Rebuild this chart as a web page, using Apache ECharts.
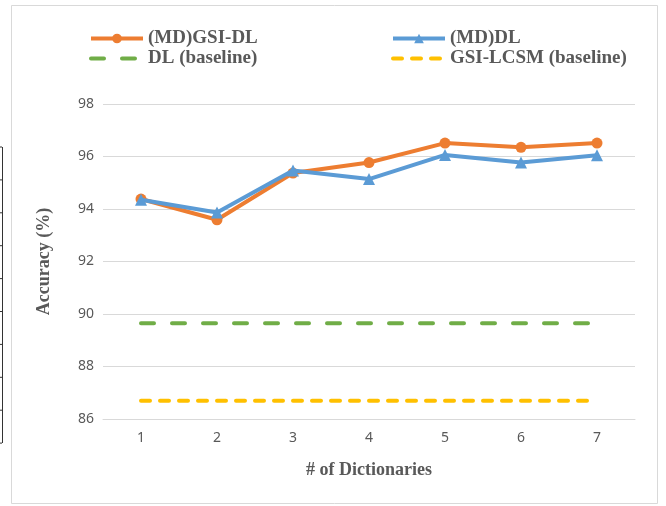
<!DOCTYPE html>
<html>
<head>
<meta charset="utf-8">
<script src="https://cdn.jsdelivr.net/npm/echarts@6/dist/echarts.min.js"></script>
<style>
  html, body { margin: 0; padding: 0; background: #fff; }
  #chart { width: 666px; height: 506px; }
</style>
</head>
<body>
<div id="chart"></div>
<script>
const dictionaries = ['1', '2', '3', '4', '5', '6', '7']
const gsiDl = [94.38, 93.59, 95.37, 95.77, 96.51, 96.35, 96.51]
const mdDl = [94.35, 93.87, 95.47, 95.14, 96.06, 95.77, 96.05]
const dlBaseline = [89.65, 89.65, 89.65, 89.65, 89.65, 89.65, 89.65]
const lcsmBaseline = [86.7, 86.7, 86.7, 86.7, 86.7, 86.7, 86.7]

const textColor = '#595959'
const serif = 'Liberation Serif'

const chart = echarts.init(document.getElementById('chart'))

const legendText = { fontFamily: serif, fontWeight: 'bold', fontSize: 19, color: textColor }
const makeLegend = (name, left, top, noSymbol) => ({
  data: [name],
  left: left,
  top: top,
  itemWidth: 52,
  itemHeight: 12,
  padding: 0,
  textStyle: legendText,
  itemStyle: noSymbol ? { opacity: 0 } : {},
  lineStyle: { width: 4 },
  selectedMode: false
})

// the stray table edge at the far left of the picture
const edgeLines = []
for (let i = 0; i < 10; i++) {
  const y = 147 + i * 32.9
  edgeLines.push({ type: 'line', shape: { x1: 0, y1: y, x2: 2, y2: y }, style: { stroke: '#333', lineWidth: 1 } })
}

const option = {
  animation: false,
  backgroundColor: '#fff',
  graphic: [
    { type: 'rect', shape: { x: 11.5, y: 5.5, width: 646, height: 498 }, style: { fill: 'none', stroke: '#d9d9d9', lineWidth: 1 }, silent: true },
    { type: 'line', shape: { x1: 2.5, y1: 147, x2: 2.5, y2: 443 }, style: { stroke: '#333', lineWidth: 1 } },
    ...edgeLines
  ],
  legend: [
    makeLegend('(MD)GSI-DL', 89, 29, false),
    makeLegend('(MD)DL', 391, 29, false),
    makeLegend('DL (baseline)', 89, 49, true),
    makeLegend('GSI-LCSM (baseline)', 391, 49, true)
  ],
  grid: { left: 103, right: 31, top: 104, bottom: 87 },
  xAxis: {
    type: 'category',
    data: dictionaries,
    boundaryGap: true,
    name: '# of Dictionaries',
    nameLocation: 'middle',
    nameGap: 42,
    nameTextStyle: { fontFamily: serif, fontWeight: 'bold', fontSize: 18, color: textColor },
    axisLine: { lineStyle: { color: '#d9d9d9', width: 1 } },
    axisTick: { show: false },
    axisLabel: { fontFamily: 'Noto Sans', fontSize: 14, color: textColor, margin: 12 }
  },
  yAxis: {
    type: 'value',
    min: 86,
    max: 98,
    interval: 2,
    name: 'Accuracy (%)',
    nameLocation: 'middle',
    nameGap: 50,
    nameTextStyle: { fontFamily: serif, fontWeight: 'bold', fontSize: 18, color: textColor },
    axisLine: { show: false },
    axisTick: { show: false },
    axisLabel: { fontFamily: 'Noto Sans', fontSize: 14, color: textColor, margin: 9 },
    splitLine: { lineStyle: { color: '#d9d9d9', width: 1 } }
  },
  series: [
    {
      name: 'DL (baseline)',
      type: 'line',
      data: dlBaseline,
      showSymbol: false,
      symbol: 'none',
      itemStyle: { color: '#70ad47' },
      lineStyle: { color: '#70ad47', width: 4, type: [13, 18], cap: 'round' },
      z: 2
    },
    {
      name: 'GSI-LCSM (baseline)',
      type: 'line',
      data: lcsmBaseline,
      showSymbol: false,
      symbol: 'none',
      itemStyle: { color: '#ffc000' },
      lineStyle: { color: '#ffc000', width: 4, type: [9, 10], cap: 'round' },
      z: 2
    },
    {
      name: '(MD)GSI-DL',
      type: 'line',
      data: gsiDl,
      symbol: 'circle',
      symbolSize: 11,
      itemStyle: { color: '#ed7d31' },
      lineStyle: { color: '#ed7d31', width: 4 },
      z: 3
    },
    {
      name: '(MD)DL',
      type: 'line',
      data: mdDl,
      symbol: 'triangle',
      symbolSize: 12,
      itemStyle: { color: '#5b9bd5' },
      lineStyle: { color: '#5b9bd5', width: 4 },
      z: 4
    }
  ]
}

chart.setOption(option)
</script>
</body>
</html>
